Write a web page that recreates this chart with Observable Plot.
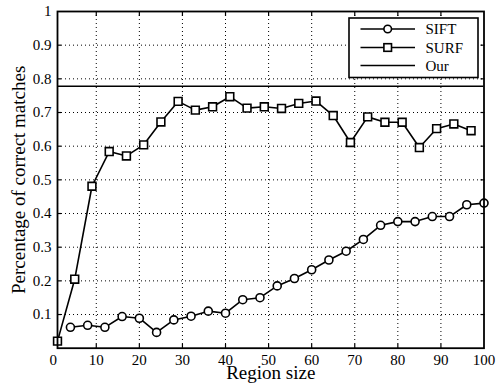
<!DOCTYPE html>
<html>
<head>
<meta charset="utf-8">
<script src="https://cdn.jsdelivr.net/npm/d3@7"></script>
<script src="https://cdn.jsdelivr.net/npm/@observablehq/plot@0.6"></script>
<style>
  html, body { margin: 0; padding: 0; background: #fff; }
  #wrap { position: relative; width: 496px; height: 389px; font-family: "Liberation Serif", "Times New Roman", serif; }
</style>
</head>
<body>
<div id="wrap"></div>
<script>
// ---- data ----
const siftX = [4, 8, 12, 16, 20, 24, 28, 32, 36, 40, 44, 48, 52, 56, 60, 64, 68, 72, 76, 80, 84, 88, 92, 96, 100];
const siftY = [0.062, 0.068, 0.062, 0.094, 0.089, 0.047, 0.084, 0.095, 0.110, 0.104, 0.144, 0.150, 0.185, 0.207, 0.233, 0.262, 0.288, 0.323, 0.365, 0.376, 0.376, 0.391, 0.391, 0.426, 0.431];
const surfX = [1, 5, 9, 13, 17, 21, 25, 29, 33, 37, 41, 45, 49, 53, 57, 61, 65, 69, 73, 77, 81, 85, 89, 93, 97];
const surfY = [0.021, 0.205, 0.481, 0.584, 0.571, 0.604, 0.672, 0.733, 0.707, 0.717, 0.747, 0.713, 0.717, 0.712, 0.727, 0.734, 0.691, 0.611, 0.687, 0.671, 0.671, 0.596, 0.652, 0.666, 0.646];
const ourY = 0.778;
const seriesNames = ["SIFT", "SURF", "Our"];
const xTickLabels = [0, 10, 20, 30, 40, 50, 60, 70, 80, 90, 100];
const xTickMarks = [10, 20, 30, 40, 50, 60, 70, 80, 90];
const yTickLabels = [0.1, 0.2, 0.3, 0.4, 0.5, 0.6, 0.7, 0.8, 0.9, 1];
const yTickMarks = [0.1, 0.2, 0.3, 0.4, 0.5, 0.6, 0.7, 0.8, 0.9];
const xLabel = "Region size";
const yLabel = "Percentage of correct matches";

const sift = siftX.map((x, i) => ({x, y: siftY[i]}));
const surf = surfX.map((x, i) => ({x, y: surfY[i]}));

const FONT = '"Liberation Serif", "Times New Roman", serif';
const grid = {stroke: "#000", strokeOpacity: 1, strokeWidth: 1, strokeDasharray: "1,3"};
const lw = 1.6;

const chart = Plot.plot({
  width: 496,
  height: 389,
  marginLeft: 57,
  marginRight: 12.5,
  marginTop: 11,
  marginBottom: 41.3,
  style: {fontFamily: FONT, background: "#fff", color: "#000"},
  x: {domain: [1, 100]},
  y: {domain: [0, 1]},
  marks: [
    Plot.gridX(xTickMarks, grid),
    Plot.gridY(yTickMarks, grid),
    Plot.ruleY([ourY], {stroke: "#000", strokeWidth: lw}),
    Plot.line(surf, {x: "x", y: "y", stroke: "#000", strokeWidth: lw}),
    Plot.dot(surf, {x: "x", y: "y", symbol: "square", r: 4.4, stroke: "#000", fill: "#fff", strokeWidth: lw}),
    Plot.line(sift, {x: "x", y: "y", stroke: "#000", strokeWidth: lw}),
    Plot.dot(sift, {x: "x", y: "y", symbol: "circle", r: 4.0, stroke: "#000", fill: "#fff", strokeWidth: lw}),
    // inward ticks
    Plot.axisX({anchor: "bottom", ticks: xTickMarks, tickSize: -4, strokeWidth: 1.2, tickFormat: () => "", label: null}),
    Plot.axisX({anchor: "top", ticks: xTickMarks, tickSize: -4, strokeWidth: 1.2, tickFormat: () => "", label: null}),
    Plot.axisY({anchor: "left", ticks: yTickMarks, tickSize: -4, strokeWidth: 1.2, tickFormat: () => "", label: null}),
    Plot.axisY({anchor: "right", ticks: yTickMarks, tickSize: -4, strokeWidth: 1.2, tickFormat: () => "", label: null}),
    // tick labels
    Plot.axisX({anchor: "bottom", ticks: xTickLabels, tickSize: 0, tickPadding: 6, fontSize: 15, tickFormat: d => String(d), label: null}),
    Plot.axisY({anchor: "left", ticks: yTickLabels, tickSize: 0, tickPadding: 6, fontSize: 15, tickFormat: d => String(d), label: null}),
    // axis titles
    Plot.text([xLabel], {frameAnchor: "bottom", dy: 31, fontSize: 19, text: d => d, fill: "#000", textAnchor: "middle"}),
    Plot.text([yLabel], {frameAnchor: "left", dx: -39, rotate: -90, fontSize: 19, text: d => d, fill: "#000", textAnchor: "middle"}),
    Plot.frame({stroke: "#000", strokeWidth: 1.8})
  ]
});

const wrap = document.getElementById("wrap");
wrap.appendChild(chart);

// legend overlay
const lg = d3.create("svg").attr("width", 131).attr("height", 62)
  .style("position", "absolute").style("left", "348px").style("top", "17px");
lg.append("rect").attr("x", 1).attr("y", 1).attr("width", 129).attr("height", 59.5)
  .attr("fill", "#fff").attr("stroke", "#000").attr("stroke-width", 1.6);
const rows = [12, 30.5, 48.5];
seriesNames.forEach((name, i) => {
  const g = lg.append("g").attr("transform", `translate(0,${rows[i]})`);
  g.append("line").attr("x1", 12.5).attr("x2", 67).attr("y1", 0).attr("y2", 0)
    .attr("stroke", "#000").attr("stroke-width", lw);
  if (i === 0) g.append("circle").attr("cx", 39.7).attr("cy", 0).attr("r", 3.8)
    .attr("fill", "#fff").attr("stroke", "#000").attr("stroke-width", lw);
  if (i === 1) g.append("rect").attr("x", 35.9).attr("y", -3.8).attr("width", 7.6).attr("height", 7.6)
    .attr("fill", "#fff").attr("stroke", "#000").attr("stroke-width", lw);
  g.append("text").attr("x", 77.5).attr("y", 0).attr("dy", "0.35em")
    .style("font-family", FONT).attr("font-size", 15)
    .attr("fill", "#000").text(name);
});
wrap.appendChild(lg.node());
</script>
</body>
</html>
